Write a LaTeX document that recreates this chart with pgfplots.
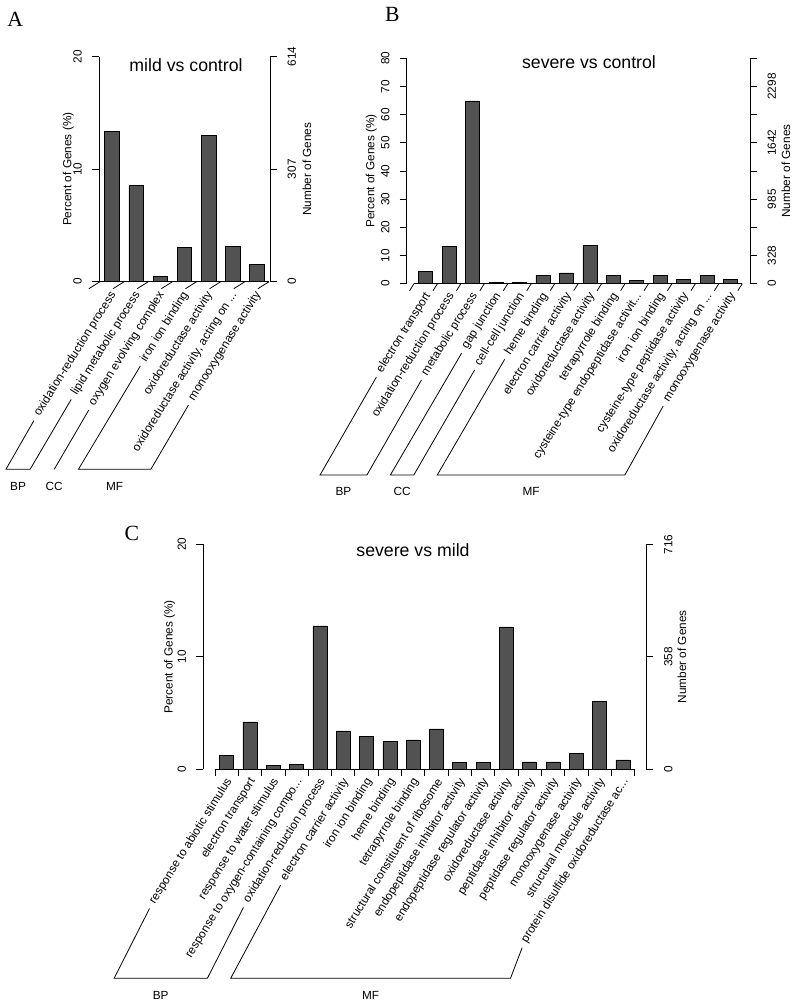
\documentclass[border=0pt]{standalone}
\usepackage{fontspec}
\setmainfont{Liberation Sans}
\newfontfamily\seriffont{Liberation Serif}
\usepackage{pgfplots}
\pgfplotsset{compat=1.18}
\usetikzlibrary{calc}
\definecolor{barfill}{RGB}{82,82,82}
\newcommand{\sm}{\fontsize{11.8bp}{13bp}\selectfont}
\newcommand{\ttl}{\fontsize{17.7bp}{19bp}\selectfont}
\newcommand{\pl}{\seriffont\fontsize{21.7bp}{23bp}\selectfont}
\newcommand{\trd}{...}

\pgfplotsset{
  wegobase/.style={
    scale only axis, anchor=south west, clip=false,
    axis x line=none, ymin=0,
    tick align=outside, major tick length=7bp,
    axis line style={line width=0.8bp, black, -},
    tick style={line width=0.8bp, black},
    /pgf/number format/assume math mode=true,
    every axis y label/.style={font=\sm, rotate=90, anchor=center, inner sep=0pt},
  },
  wegoL/.style={wegobase, axis y line*=left,
    yticklabel style={rotate=90, anchor=south, font=\sm, inner xsep=0pt, inner ysep=10bp}},
  wegoR/.style={wegobase, axis y line*=right,
    yticklabel style={rotate=90, anchor=north, font=\sm, inner xsep=0pt, inner ysep=10.5bp}},
  wbar/.style={ybar, bar width=0.6, fill=barfill, draw=black, line width=0.6bp},
}
\tikzset{
  catlab/.style={rotate=58, anchor=east, font=\sm, inner sep=0pt},
  grplab/.style={anchor=north, font=\sm, inner sep=0pt},
}
% #1 panel prefix, #2 first, #3 last, #4 h, #5 depth, #6 group name
\newcommand{\bracket}[6]{%
  \coordinate (bf) at ([shift={(-#4,-#5)}]#1#2);
  \coordinate (bl) at ([shift={(-#4,-#5)}]#1#3);
  \draw[line width=0.8bp] ($(L#1#2.west)!6bp!(bf)$) -- (bf) -- (bl) -- ($(L#1#3.west)!6bp!(bl)$);
  \node[grplab] at ($(bf)!0.5!(bl)+(0,-12.4bp)$) {#6};
}

\begin{document}
\begin{tikzpicture}
\useasboundingbox (0,0) rectangle (795bp,-1005bp);

% ================= Panel A =================
\node[anchor=base west, inner sep=0pt, font=\pl] at (7.3bp,-26bp) {A};
\begin{axis}[wegoL, at={(99bp,-281.7bp)}, width=171bp, height=225bp,
  xmin=0.46, xmax=7.54, ymax=20, ytick={0,10,20},
  ylabel={Percent of Genes (\%)},
  ylabel style={at={([xshift=-30.7bp]rel axis cs:0,0.5)}}]
\addplot[wbar] coordinates {(1,13.33) (2,8.59) (3,0.50) (4,3.05) (5,12.98) (6,3.17) (7,1.57)};
\draw[line width=0.8bp] (axis cs:0.5,0) -- (axis cs:7.5,0);
\pgfplotsinvokeforeach{0.5,1.5,2.5,3.5,4.5,5.5,6.5,7.5}{\draw[line width=0.8bp] (axis cs:#1,0) -- ++(0,-7bp);}
\pgfplotsinvokeforeach{1,2,3,4,5,6,7}{\coordinate (A#1) at (axis cs:#1,0);}
\end{axis}
\begin{axis}[wegoR, at={(99bp,-281.7bp)}, width=171bp, height=225bp,
  xmin=0.46, xmax=7.54, ymax=20, ytick={0,10,20}, yticklabels={0,307,614},
  ylabel={Number of Genes},
  ylabel style={at={([xshift=37bp]rel axis cs:1,0.5)}}]
\end{axis}
\node[font=\ttl, anchor=base, inner sep=0pt] at (186bp,-71.7bp) {mild vs control};
\foreach \lab [count=\i] in {oxidation-reduction process, lipid metabolic process,
  oxygen evolving complex, iron ion binding, oxidoreductase activity,
  {oxidoreductase activity, acting on \trd}, monooxygenase activity}
  {\node[catlab] (LA\i) at ([shift={(1.5bp,-11bp)}]A\i) {\lab};}
\bracket{A}{1}{2}{106.1bp}{187.6bp}{BP}
\bracket{A}{3}{3}{106.1bp}{187.6bp}{CC}
\bracket{A}{4}{7}{106.1bp}{187.6bp}{MF}

% ================= Panel B =================
\node[anchor=base west, inner sep=0pt, font=\pl] at (385bp,-21.7bp) {B};
\begin{axis}[wegoL, at={(406.7bp,-283.7bp)}, width=343.3bp, height=225.4bp,
  xmin=0.189, xmax=14.83, ymax=80, ytick={0,10,20,30,40,50,60,70,80},
  ylabel={Percent of Genes (\%)},
  ylabel style={at={([xshift=-35.4bp]rel axis cs:0,0.5)}}]
\addplot[wbar] coordinates {(1,4.50) (2,13.10) (3,64.85) (4,0.35) (5,0.35) (6,2.96) (7,3.80)
  (8,13.60) (9,2.96) (10,1.20) (11,2.96) (12,1.65) (13,2.96) (14,1.55)};
\draw[line width=0.8bp] (axis cs:0.5,0) -- (axis cs:14.5,0);
\pgfplotsinvokeforeach{0.5,1.5,2.5,3.5,4.5,5.5,6.5,7.5,8.5,9.5,10.5,11.5,12.5,13.5,14.5}{\draw[line width=0.8bp] (axis cs:#1,0) -- ++(0,-7bp);}
\pgfplotsinvokeforeach{1,2,3,4,5,6,7,8,9,10,11,12,13,14}{\coordinate (B#1) at (axis cs:#1,0);}
\end{axis}
\begin{axis}[wegoR, at={(406.7bp,-283.7bp)}, width=343.3bp, height=225.4bp,
  xmin=0.189, xmax=14.83, ymax=80, ytick={0,10,20,30,40,50,60,70,80},
  yticklabels={0,328,,985,,1642,,2298,},
  ylabel={Number of Genes},
  ylabel style={at={([xshift=36bp]rel axis cs:1,0.5)}}]
\end{axis}
\node[font=\ttl, anchor=base, inner sep=0pt] at (589bp,-68bp) {severe vs control};
\foreach \lab [count=\i] in {electron transport, oxidation-reduction process, metabolic process,
  gap junction, cell-cell junction, heme binding, electron carrier activity,
  oxidoreductase activity, tetrapyrrole binding, cysteine-type endopeptidase activit\trd,
  iron ion binding, cysteine-type peptidase activity,
  {oxidoreductase activity, acting on \trd}, monooxygenase activity}
  {\node[catlab] (LB\i) at ([shift={(2.5bp,-10bp)}]B\i) {\lab};}
\bracket{B}{1}{3}{105.7bp}{191.3bp}{BP}
\bracket{B}{4}{5}{105.7bp}{191.3bp}{CC}
\bracket{B}{6}{14}{105.7bp}{191.3bp}{MF}

% ================= Panel C =================
\node[anchor=base west, inner sep=0pt, font=\pl] at (124.3bp,-540bp) {C};
\begin{axis}[wegoL, at={(203.3bp,-769.3bp)}, width=443bp, height=225bp,
  xmin=0, xmax=19, ymax=20, ytick={0,10,20},
  ylabel={Percent of Genes (\%)},
  ylabel style={at={([xshift=-33.8bp]rel axis cs:0,0.5)}}]
\addplot[wbar] coordinates {(1,1.21) (2,4.21) (3,0.33) (4,0.47) (5,12.74) (6,3.41) (7,2.96)
  (8,2.49) (9,2.61) (10,3.59) (11,0.59) (12,0.59) (13,12.65) (14,0.65) (15,0.65)
  (16,1.39) (17,6.01) (18,0.83)};
\draw[line width=0.8bp] (axis cs:0.5,0) -- (axis cs:18.5,0);
\pgfplotsinvokeforeach{0.5,1.5,2.5,3.5,4.5,5.5,6.5,7.5,8.5,9.5,10.5,11.5,12.5,13.5,14.5,15.5,16.5,17.5,18.5}{\draw[line width=0.8bp] (axis cs:#1,0) -- ++(0,-7bp);}
\pgfplotsinvokeforeach{1,2,3,4,5,6,7,8,9,10,11,12,13,14,15,16,17,18}{\coordinate (C#1) at (axis cs:#1,0);}
\end{axis}
\begin{axis}[wegoR, at={(203.3bp,-769.3bp)}, width=443bp, height=225bp,
  xmin=0, xmax=19, ymax=20, ytick={0,10,20}, yticklabels={0,358,716},
  ylabel={Number of Genes},
  ylabel style={at={([xshift=35.7bp]rel axis cs:1,0.5)}}]
\end{axis}
\node[font=\ttl, anchor=base, inner sep=0pt] at (413bp,-556.7bp) {severe vs mild};
\foreach \lab [count=\i] in {response to abiotic stimulus, electron transport,
  response to water stimulus, response to oxygen-containing compo\trd,
  oxidation-reduction process, electron carrier activity, iron ion binding,
  heme binding, tetrapyrrole binding, structural constituent of ribosome,
  endopeptidase inhibitor activity, endopeptidase regulator activity,
  oxidoreductase activity, peptidase inhibitor activity, peptidase regulator activity,
  monooxygenase activity, structural molecule activity,
  protein disulfide oxidoreductase ac\trd}
  {\node[catlab] (LC\i) at ([shift={(3bp,-10bp)}]C\i) {\lab};}
\bracket{C}{1}{5}{112.5bp}{209bp}{BP}
\bracket{C}{6}{18}{112.5bp}{209bp}{MF}
\end{tikzpicture}
\end{document}
